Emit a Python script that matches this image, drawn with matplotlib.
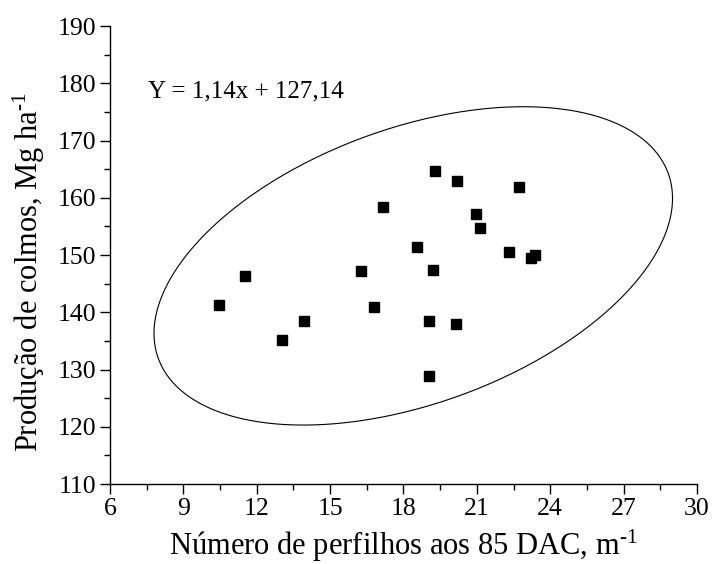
import numpy as np
import matplotlib
matplotlib.use('Agg')
import matplotlib.pyplot as plt
from matplotlib.ticker import MultipleLocator

plt.rcParams['font.family'] = ['Liberation Serif', 'DejaVu Serif']
plt.rcParams['mathtext.fontset'] = 'custom'
plt.rcParams['mathtext.rm'] = 'Liberation Serif'
plt.rcParams['mathtext.it'] = 'Liberation Serif:italic'

# tillers per metre at 85 DAC vs. stalk yield
perfilhos = [10.44, 11.52, 13.05, 13.92, 16.26, 16.79, 17.15, 18.56, 19.04, 19.05,
             19.22, 19.29, 20.15, 20.17, 20.95, 21.14, 22.30, 22.71, 23.22, 23.36]
producao = [141.3, 146.3, 135.1, 138.5, 147.2, 141.0, 158.4, 151.4, 138.5, 128.9,
            147.3, 164.6, 137.9, 162.9, 157.1, 154.7, 150.5, 161.9, 149.5, 150.0]

# ellipse: centre and shape (var x, var y, cov xy)
elip_centro = (18.4, 148.1)
elip_sxx, elip_syy, elip_sxy = 10.6**2, 27.8**2, 125.0

equacao = 'Y = 1,14x + 127,14'

fig = plt.figure(figsize=(7.15, 5.64), dpi=100)
ax = fig.add_axes([0.1538, 0.1418, 0.8210, 0.8121])

# draw the ellipse from the Cholesky factor of its shape matrix
L = np.linalg.cholesky(np.array([[elip_sxx, elip_sxy], [elip_sxy, elip_syy]]))
t = np.linspace(0, 2 * np.pi, 400)
circ = np.vstack([np.cos(t), np.sin(t)])
ex, ey = L @ circ
ax.plot(elip_centro[0] + ex, elip_centro[1] + ey, color='black', lw=0.8)

ax.plot(perfilhos, producao, 's', color='black', markersize=7, linestyle='none')

ax.text(7.55, 178.5, equacao, fontsize=18, va='center', ha='left')

ax.set_xlim(6, 30)
ax.set_ylim(110, 190)
ax.xaxis.set_major_locator(MultipleLocator(3))
ax.xaxis.set_minor_locator(MultipleLocator(1.5))
ax.yaxis.set_major_locator(MultipleLocator(10))
ax.yaxis.set_minor_locator(MultipleLocator(5))

ax.spines['top'].set_visible(False)
ax.spines['right'].set_visible(False)
for s in ['left', 'bottom']:
    ax.spines[s].set_linewidth(1.0)
ax.tick_params(which='major', direction='out', length=7, width=1.0, labelsize=18.5, pad=3)
ax.tick_params(which='minor', direction='out', length=4, width=1.0)

ax.set_xlabel(r'Número de perfilhos aos 85 DAC, m$^{\text{-1}}$', fontsize=22, labelpad=6)
ax.set_ylabel(r'Produção de colmos, Mg ha$^{\text{-1}}$', fontsize=22)
ax.yaxis.set_label_coords(-0.108, 0.463)

fig.savefig('out.png', dpi=100)
